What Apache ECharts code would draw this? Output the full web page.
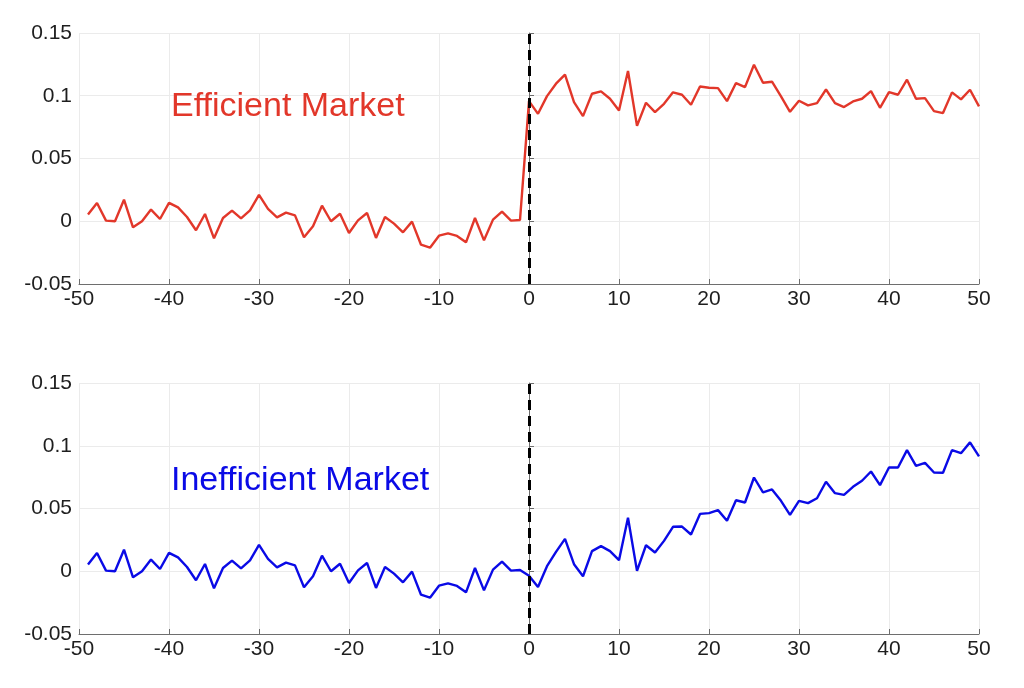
<!DOCTYPE html>
<html>
<head>
<meta charset="utf-8">
<script src="https://cdn.jsdelivr.net/npm/echarts@6/dist/echarts.min.js"></script>
<style>
html,body{margin:0;padding:0;background:#fff;}
#chart{width:1024px;height:688px;}
</style>
</head>
<body>
<div id="chart"></div>
<script>
// Event-time lags
const lags = [-49,-48,-47,-46,-45,-44,-43,-42,-41,-40,-39,-38,-37,-36,-35,-34,-33,-32,-31,-30,
  -29,-28,-27,-26,-25,-24,-23,-22,-21,-20,-19,-18,-17,-16,-15,-14,-13,-12,-11,-10,
  -9,-8,-7,-6,-5,-4,-3,-2,-1,0,1,2,3,4,5,6,7,8,9,10,
  11,12,13,14,15,16,17,18,19,20,21,22,23,24,25,26,27,28,29,30,
  31,32,33,34,35,36,37,38,39,40,41,42,43,44,45,46,47,48,49,50];

// Efficient market (top panel)
const efficientValues = [
  0.0053,0.0146,0.0005,0.0000,0.0172,-0.0048,0.0000,0.0093,0.0018,0.0146,
  0.0110,0.0034,-0.0072,0.0058,-0.0136,0.0026,0.0085,0.0023,0.0087,0.0210,
  0.0098,0.0031,0.0069,0.0047,-0.0128,-0.0040,0.0124,0.0000,0.0060,-0.0094,
  0.0007,0.0066,-0.0133,0.0034,-0.0019,-0.0088,-0.0003,-0.0187,-0.0211,-0.0115,
  -0.0096,-0.0117,-0.0168,0.0026,-0.0152,0.0013,0.0077,0.0005,0.0010,
  0.0957,0.0856,0.0997,0.1096,0.1168,0.0950,0.0838,0.1016,0.1035,0.0976,
  0.0883,0.1197,0.0760,0.0944,0.0870,0.0936,0.1027,0.1008,0.0928,0.1074,
  0.1064,0.1061,0.0957,0.1101,0.1069,0.1247,0.1104,0.1112,0.0995,0.0872,
  0.0960,0.0923,0.0941,0.1050,0.0941,0.0910,0.0955,0.0976,0.1037,0.0904,
  0.1029,0.1008,0.1128,0.0976,0.0981,0.0878,0.0862,0.1027,0.0971,0.1048,0.0915];

// Inefficient market (bottom panel)
const inefficientValues = [
  0.0053,0.0146,0.0005,0.0000,0.0172,-0.0048,0.0000,0.0093,0.0018,0.0146,
  0.0110,0.0034,-0.0072,0.0058,-0.0136,0.0026,0.0085,0.0023,0.0087,0.0210,
  0.0098,0.0031,0.0069,0.0047,-0.0128,-0.0040,0.0124,0.0000,0.0060,-0.0094,
  0.0007,0.0066,-0.0133,0.0034,-0.0019,-0.0088,-0.0003,-0.0187,-0.0211,-0.0115,
  -0.0096,-0.0117,-0.0168,0.0026,-0.0152,0.0013,0.0077,0.0005,0.0010,
  -0.0035,-0.0125,0.0040,0.0154,0.0258,0.0056,-0.0040,0.0160,0.0200,0.0160,
  0.0088,0.0426,0.0003,0.0207,0.0149,0.0242,0.0354,0.0356,0.0293,0.0457,
  0.0463,0.0487,0.0402,0.0566,0.0548,0.0747,0.0628,0.0652,0.0561,0.0449,
  0.0561,0.0543,0.0582,0.0713,0.0622,0.0609,0.0673,0.0721,0.0795,0.0686,
  0.0827,0.0827,0.0965,0.0840,0.0864,0.0787,0.0785,0.0965,0.0941,0.1027,0.0915];

const panelLabels = ['Efficient Market', 'Inefficient Market'];
const eventLag = 0;

const FONT = '"Liberation Sans", Arial, Helvetica, sans-serif';
const chart = echarts.init(document.getElementById('chart'), null, {renderer: 'canvas'});

function pairs(vals) { return lags.map((x, i) => [x, vals[i]]); }

function xAxisCfg(gi) {
  return {
    type: 'value', gridIndex: gi, min: -50, max: 50, interval: 10,
    axisLine: {show: true, onZero: false, lineStyle: {color: '#6e6e6e', width: 1}},
    axisTick: {show: true, inside: true, length: 5, lineStyle: {color: '#6e6e6e'}},
    axisLabel: {fontSize: 21, color: '#1e1e1e', fontFamily: FONT, margin: 5},
    splitLine: {show: true, lineStyle: {color: '#ebebeb', width: 1}}
  };
}
function yAxisCfg(gi) {
  return {
    type: 'value', gridIndex: gi, min: -0.05, max: 0.15, interval: 0.05,
    axisLine: {show: true, lineStyle: {color: '#6e6e6e', width: 1}},
    axisTick: {show: true, inside: true, length: 5, lineStyle: {color: '#6e6e6e'}},
    axisLabel: {fontSize: 21, color: '#1e1e1e', fontFamily: FONT, margin: 7,
      formatter: v => String(+v.toFixed(2))},
    splitLine: {show: true, lineStyle: {color: '#ebebeb', width: 1}}
  };
}
function markLineCfg() {
  return {
    silent: true, symbol: 'none', label: {show: false},
    lineStyle: {color: '#000', width: 3, type: [10, 6]},
    data: [[{coord: [eventLag, -0.05]}, {coord: [eventLag, 0.15]}]]
  };
}

chart.setOption({
  animation: false,
  backgroundColor: '#fff',
  grid: [
    {left: 79, top: 33, width: 900, height: 251},
    {left: 79, top: 383, width: 900, height: 251}
  ],
  xAxis: [xAxisCfg(0), xAxisCfg(1)],
  yAxis: [yAxisCfg(0), yAxisCfg(1)],
  series: [
    {type: 'line', xAxisIndex: 0, yAxisIndex: 0, data: pairs(efficientValues),
      showSymbol: false, lineStyle: {color: '#e2372a', width: 2.4}, markLine: markLineCfg()},
    {type: 'line', xAxisIndex: 1, yAxisIndex: 1, data: pairs(inefficientValues),
      showSymbol: false, lineStyle: {color: '#0a0ae6', width: 2.4}, markLine: markLineCfg()}
  ],
  graphic: [
    {type: 'text', z: 100, x: 171, y: 107, style: {text: panelLabels[0], fill: '#e2372a',
      font: '34px ' + FONT, textVerticalAlign: 'middle'}},
    {type: 'text', z: 100, x: 171, y: 481, style: {text: panelLabels[1], fill: '#0a0ae6',
      font: '34px ' + FONT, textVerticalAlign: 'middle'}}
  ]
});
</script>
</body>
</html>
